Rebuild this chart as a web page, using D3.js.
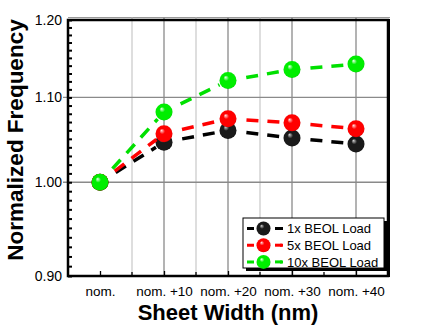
<!DOCTYPE html>
<html><head><meta charset="utf-8">
<script src="https://cdn.jsdelivr.net/npm/d3@7"></script>
<style>
html,body{margin:0;padding:0;background:#fff;}
svg text{font-family:"Liberation Sans",Arial,sans-serif;}
</style></head>
<body><svg id="c" width="423" height="335"></svg>
<script>
const categories = ["nom.", "nom. +10", "nom. +20", "nom. +30", "nom. +40"];
const series1x = [1.000, 1.046, 1.060, 1.051, 1.044];
const series5x = [1.000, 1.056, 1.074, 1.069, 1.062];
const series10x = [1.000, 1.082, 1.121, 1.135, 1.142];
const seriesNames = ["1x BEOL Load", "5x BEOL Load", "10x BEOL Load"];
const yTicks = [0.90, 1.00, 1.10, 1.20];
const yLabel = "Normalized Frequency";
const xLabel = "Sheet Width (nm)";

const svg = d3.select("#c");
const L = 68, R = 388, T = 20, B = 276;
const x = d3.scalePoint().domain(categories).range([L, R]).padding(0.5);
const y = d3.scaleLog().domain([0.9, 1.2]).range([B, T]);

const defs = svg.append("defs");
const cols = [
  {id:"gBlack", hi:"#d0d0d0", mid:"#1a1a1a", edge:"#000000", line:"#000000"},
  {id:"gRed", hi:"#ffe0e0", mid:"#ff0000", edge:"#c00000", line:"#ff0000"},
  {id:"gGreen", hi:"#f0fff0", mid:"#00ee00", edge:"#00b000", line:"#00e000"}
];
cols.forEach(c => {
  const g = defs.append("radialGradient").attr("id", c.id)
    .attr("cx", "50%").attr("cy", "50%").attr("r", "55%")
    .attr("fx", "35%").attr("fy", "30%");
  g.append("stop").attr("offset", "0%").attr("stop-color", c.hi);
  g.append("stop").attr("offset", "30%").attr("stop-color", c.mid);
  g.append("stop").attr("offset", "85%").attr("stop-color", c.mid);
  g.append("stop").attr("offset", "100%").attr("stop-color", c.edge);
});

// top thin grey line
svg.append("line").attr("x1", L).attr("x2", R + 2).attr("y1", T - 2.5).attr("y2", T - 2.5)
  .attr("stroke", "#999").attr("stroke-width", 1);

// minor vertical gridlines (light)
const step = x.step();
categories.slice(0, 3).forEach(c => {
  const xx = x(c) + step / 2;
  svg.append("line").attr("x1", xx).attr("x2", xx).attr("y1", T - 2.5).attr("y2", B)
    .attr("stroke", "#c8c8c8").attr("stroke-width", 1.2);
});
// major vertical gridlines
categories.slice(1).forEach(c => {
  svg.append("line").attr("x1", x(c)).attr("x2", x(c)).attr("y1", T - 2.5).attr("y2", B)
    .attr("stroke", "#8a8a8a").attr("stroke-width", 1.3);
});
// horizontal gridlines
[1.0, 1.1].forEach(v => {
  svg.append("line").attr("x1", L - 5).attr("x2", R).attr("y1", y(v)).attr("y2", y(v))
    .attr("stroke", "#8a8a8a").attr("stroke-width", 1.3);
});

// minor y ticks (inward)
const minorY = d3.range(0, 31).map(i => +(0.90 + i * 0.01).toFixed(2));
svg.append("g").attr("transform", `translate(${L},0)`)
  .call(d3.axisLeft(y).tickValues(minorY).tickSize(-4).tickFormat(""))
  .call(g => g.select(".domain").remove())
  .call(g => g.selectAll("line").attr("stroke", "#000").attr("stroke-width", 2));

// y tick labels
svg.append("g").attr("transform", `translate(${L},0)`)
  .call(d3.axisLeft(y).tickValues(yTicks).tickSize(0).tickPadding(6).tickFormat(d3.format(".2f")))
  .call(g => g.select(".domain").remove())
  .call(g => g.selectAll("text").attr("font-size", "14px").attr("fill", "#000")
    .attr("font-family", "Liberation Sans, Arial, sans-serif"));

// x ticks
svg.append("g").attr("transform", `translate(0,${B})`)
  .call(d3.axisBottom(x).tickSize(-5).tickPadding(10))
  .call(g => g.select(".domain").remove())
  .call(g => g.selectAll("line").attr("stroke", "#000").attr("stroke-width", 1.3))
  .call(g => g.selectAll("text").attr("font-size", "13.5px").attr("fill", "#000")
    .attr("font-family", "Liberation Sans, Arial, sans-serif"));
// minor x ticks
svg.append("g").selectAll("line").data(categories.slice(0, 4)).join("line")
  .attr("x1", c => x(c) + step / 2).attr("x2", c => x(c) + step / 2)
  .attr("y1", B).attr("y2", B - 4).attr("stroke", "#000").attr("stroke-width", 1.3);

// frame
svg.append("rect").attr("x", L).attr("y", T).attr("width", R - L).attr("height", B - T)
  .attr("fill", "none").attr("stroke", "#000").attr("stroke-width", 2.5);
svg.append("line").attr("x1", R + 0.5).attr("x2", R + 0.5).attr("y1", T - 1).attr("y2", B + 1)
  .attr("stroke", "#000").attr("stroke-width", 3);

// series
const allSeries = [series1x, series5x, series10x];
const rMark = 8.5;
allSeries.forEach((vals, si) => {
  const c = cols[si];
  const pts = vals.map((v, i) => [x(categories[i]), y(v)]);
  const g = svg.append("g");
  for (let i = 0; i < pts.length - 1; i++) {
    const [x1, y1] = pts[i], [x2, y2] = pts[i + 1];
    const dx = x2 - x1, dy = y2 - y1, len = Math.hypot(dx, dy);
    const ux = dx / len, uy = dy / len, gap = rMark + 1;
    g.append("line")
      .attr("x1", x1 + ux * gap).attr("y1", y1 + uy * gap)
      .attr("x2", x2 - ux * gap).attr("y2", y2 - uy * gap)
      .attr("stroke", c.line).attr("stroke-width", 3.5)
      .attr("stroke-dasharray", "12,9").attr("stroke-dashoffset", -9);
  }
  g.selectAll("circle").data(pts).join("circle")
    .attr("cx", d => d[0]).attr("cy", d => d[1]).attr("r", rMark)
    .attr("fill", `url(#${c.id})`);
});

// legend
const lgX = 243, lgY = 218, lgW = 141, lgH = 50;
svg.append("rect").attr("x", lgX + 3).attr("y", lgY + 3).attr("width", lgW).attr("height", lgH).attr("fill", "#000");
svg.append("rect").attr("x", lgX).attr("y", lgY).attr("width", lgW).attr("height", lgH)
  .attr("fill", "#fff").attr("stroke", "#000").attr("stroke-width", 1);
seriesNames.forEach((name, i) => {
  const cy = lgY + 10.5 + i * 16.7;
  const c = cols[i];
  svg.append("line").attr("x1", lgX + 4).attr("x2", lgX + 40).attr("y1", cy).attr("y2", cy)
    .attr("stroke", c.line).attr("stroke-width", 3).attr("stroke-dasharray", "7,26");
  svg.append("line").attr("x1", lgX + 32).attr("x2", lgX + 39).attr("y1", cy).attr("y2", cy)
    .attr("stroke", c.line).attr("stroke-width", 3);
  svg.append("circle").attr("cx", lgX + 20.5).attr("cy", cy).attr("r", 7)
    .attr("fill", `url(#${c.id})`);
  svg.append("text").attr("x", lgX + 44).attr("y", cy).attr("dy", "0.36em")
    .attr("font-size", "13px").text(name);
});

// axis titles
svg.append("text").attr("transform", `translate(23,140) rotate(-90)`)
  .attr("text-anchor", "middle").attr("font-size", "22.5px").attr("font-weight", "bold").text(yLabel);
svg.append("text").attr("x", 228).attr("y", 319.5).attr("text-anchor", "middle")
  .attr("font-size", "22px").attr("font-weight", "bold").text(xLabel);
</script></body></html>
